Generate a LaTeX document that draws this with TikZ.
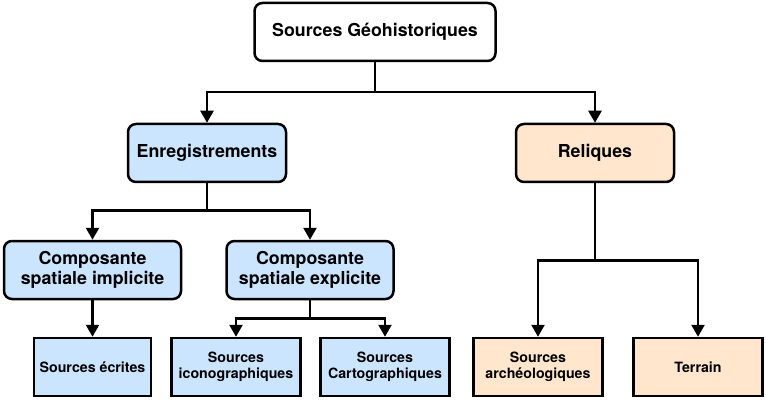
\documentclass[tikz,border=0pt]{standalone}
\usepackage{fontspec}
\setmainfont{TeX Gyre Heros}
\usetikzlibrary{arrows.meta}
\definecolor{bleu}{HTML}{CCE5FF}
\definecolor{peche}{HTML}{FFE6CC}
\begin{document}
\begin{tikzpicture}[x=1pt, y=-1pt, line width=2.5pt,
  box/.style = {draw, rounded corners=8pt, align=center, minimum height=58pt,
    font=\bfseries\fontsize{17.8}{20}\selectfont},
  leaf/.style = {draw, align=center, minimum height=58pt, minimum width=129pt,
    font=\bfseries\fontsize{14.2}{16}\selectfont},
  fleche/.style = {-{Triangle[width=13pt,length=12pt]}}]
\useasboundingbox (0,0) rectangle (766,401);
% niveau 0
\node[box, fill=white, minimum width=241pt] (geo) at (375,32) {Sources Géohistoriques};
% niveau 1
\node[box, fill=bleu, minimum width=158pt] (enr) at (207,153) {Enregistrements};
\node[box, fill=peche, minimum width=158pt] (rel) at (595,153) {Reliques};
% niveau 2
\node[box, fill=bleu, minimum width=177pt] (impl) at (92.5,270) {Composante\\spatiale implicite};
\node[box, fill=bleu, minimum width=167pt] (expl) at (310,270) {Composante\\spatiale explicite};
% niveau 3
\node[leaf, fill=bleu, minimum width=117pt] (ecr) at (92.5,367) {Sources écrites};
\node[leaf, fill=bleu] (icon) at (236,367) {Sources\\iconographiques};
\node[leaf, fill=bleu] (carto) at (385,367) {Sources\\Cartographiques};
\node[leaf, fill=peche] (arch) at (538,367) {Sources\\archéologiques};
\node[leaf, fill=peche] (terr) at (698,367) {Terrain};
% liens
\draw[fleche] (geo.south) -- ++(0,30) -| (enr.north);
\draw[fleche] (geo.south) -- ++(0,30) -| (rel.north);
\draw[fleche] (enr.south) -- ++(0,27) -| (impl.north);
\draw[fleche] (enr.south) -- ++(0,27) -| (expl.north);
\draw[fleche] (impl.south) -- (ecr.north);
\draw[fleche] (expl.south) -- ++(0,18) -| (icon.north);
\draw[fleche] (expl.south) -- ++(0,18) -| (carto.north);
\draw[fleche] (rel.south) -- ++(0,77) -| (arch.north);
\draw[fleche] (rel.south) -- ++(0,77) -| (terr.north);
\end{tikzpicture}
\end{document}
